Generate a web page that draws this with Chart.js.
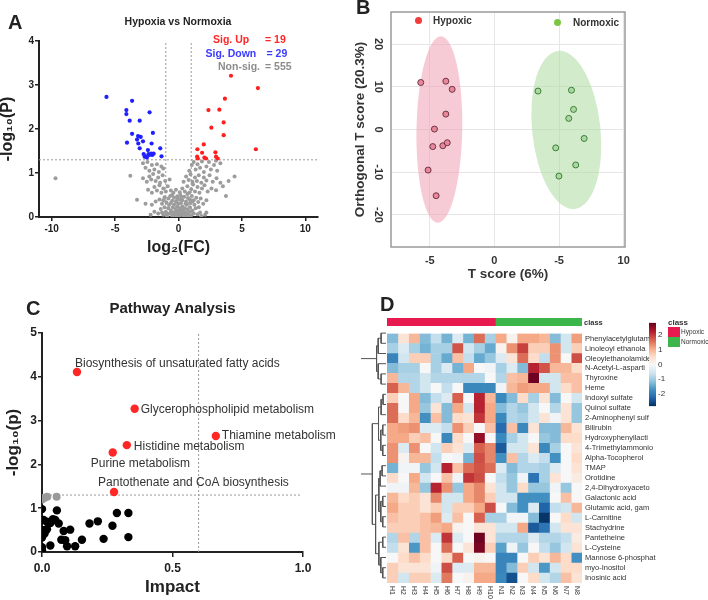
<!DOCTYPE html>
<html>
<head>
<meta charset="utf-8">
<script src="https://cdn.jsdelivr.net/npm/chart.js@4.4.1/dist/chart.umd.min.js"></script>
<style>
body { margin: 0; background: #fff; width: 708px; height: 600px; position: relative; overflow: hidden;
       font-family: "Liberation Sans", Arial, sans-serif; color: #222; }
canvas { position: absolute; }
.t { position: absolute; white-space: nowrap; line-height: 1; }
.b { font-weight: bold; }
.dot { position: absolute; width: 7px; height: 7px; border-radius: 50%; }
.sq { position: absolute; width: 12px; height: 10px; }
</style>
</head>
<body>
<canvas id="volcano" width="340" height="262" style="left:0;top:0"></canvas>
<canvas id="opls" width="368" height="290" style="left:340px;top:0"></canvas>
<canvas id="pathway" width="350" height="305" style="left:0;top:295px"></canvas>
<canvas id="dendro" width="28" height="260" style="left:359px;top:326px"></canvas>
<canvas id="heat" width="270" height="274" style="left:386px;top:326px"></canvas>
<canvas id="classbar" width="195" height="8" style="left:387px;top:318px"></canvas>
<canvas id="colorbar" width="40" height="97" style="left:641px;top:316px"></canvas>

<div class="t b" style="left:8px;top:12px;font-size:20px">A</div>
<div class="t b" style="left:178px;top:16px;font-size:10.5px;transform:translateX(-50%)">Hypoxia vs Normoxia</div>
<div class="t b" style="left:213px;top:34px;font-size:10.5px;color:#ff2626">Sig. Up</div>
<div class="t b" style="left:265px;top:34px;font-size:10.5px;color:#ff2626">= 19</div>
<div class="t b" style="left:205.5px;top:47.5px;font-size:10.5px;color:#3b3bff">Sig. Down</div>
<div class="t b" style="left:266.5px;top:47.5px;font-size:10.5px;color:#3b3bff">= 29</div>
<div class="t b" style="left:218px;top:61px;font-size:10.5px;color:#8c8c8c">Non-sig.</div>
<div class="t b" style="left:265px;top:61px;font-size:10.5px;color:#8c8c8c">= 555</div>

<div class="t b" style="left:356px;top:-3px;font-size:20px">B</div>
<div class="dot" style="left:414.8px;top:17.2px;background:#f23b3b"></div>
<div class="t b" style="left:433px;top:15.5px;font-size:10px;color:#333">Hypoxic</div>
<div class="dot" style="left:553.8px;top:19.2px;background:#7cc544"></div>
<div class="t b" style="left:573px;top:17.5px;font-size:10px;color:#333">Normoxic</div>

<div class="t b" style="left:26px;top:298px;font-size:20px">C</div>
<div class="t b" style="left:172.5px;top:300px;font-size:15px;transform:translateX(-50%)">Pathway Analysis</div>

<div class="t b" style="left:380px;top:294px;font-size:20px">D</div>
<div class="t b" style="left:584px;top:319px;font-size:7.5px;color:#333">class</div>
<div class="t b" style="left:668px;top:318.5px;font-size:8px;color:#333">class</div>
<div class="sq" style="left:668px;top:327px;background:#e8194f"></div>
<div class="sq" style="left:668px;top:337px;background:#3cb54a"></div>
<div class="t" style="left:681px;top:329px;font-size:6.5px;color:#333">Hypoxic</div>
<div class="t" style="left:681px;top:339px;font-size:6.5px;color:#333">Normoxic</div>

<script>
// ---------- A: volcano plot ----------
const volcanoXTicks = [-10, -5, 0, 5, 10];
const volcanoYTicks = [0, 1, 2, 3, 4];
const fcCutoff = 1;
const pCutoff = 1.3;
const sigUp = [
  [4.14, 3.21], [6.26, 2.93], [3.66, 2.69], [2.36, 2.43], [3.22, 2.44], [3.56, 2.15], [2.59, 2.03],
  [3.56, 1.86], [1.99, 1.65], [1.49, 1.54], [6.10, 1.54], [1.86, 1.46], [2.91, 1.47], [1.47, 1.37],
  [1.52, 1.33], [2.04, 1.35], [2.17, 1.33], [2.96, 1.37], [3.09, 1.33]
];
const sigDown = [
  [-5.68, 2.73], [-3.66, 2.64], [-4.11, 2.43], [-4.11, 2.34], [-2.28, 2.38], [-3.85, 2.19], [-3.06, 2.19],
  [-3.66, 1.89], [-2.02, 1.91], [-3.19, 1.84], [-2.98, 1.82], [-4.06, 1.69], [-3.27, 1.76], [-2.80, 1.72],
  [-3.17, 1.67], [-2.12, 1.67], [-3.06, 1.56], [-1.44, 1.56], [-2.41, 1.52], [-2.75, 1.43], [-2.59, 1.38],
  [-2.36, 1.43], [-2.15, 1.44], [-1.96, 1.44], [-1.34, 1.38], [-2.49, 1.35], [-2.67, 1.37], [-2.28, 1.41],
  [-2.07, 1.41]
];
const nonSig = [
  [-1.2, 0.05], [-1.0, 0.12], [-0.9, 0.02], [-0.8, 0.2], [-0.7, 0.08], [-0.6, 0.15], [-0.5, 0.03], [-0.45, 0.22],
  [-0.4, 0.1], [-0.3, 0.05], [-0.25, 0.18], [-0.2, 0.12], [-0.15, 0.02], [-0.1, 0.24], [-0.05, 0.08], [0, 0.15],
  [0.05, 0.03], [0.1, 0.2], [0.15, 0.1], [0.2, 0.05], [0.25, 0.16], [0.3, 0.24], [0.35, 0.08], [0.4, 0.13],
  [0.45, 0.02], [0.5, 0.2], [0.55, 0.1], [0.6, 0.05], [0.7, 0.17], [0.8, 0.09], [0.9, 0.22], [1.0, 0.04],
  [1.1, 0.14], [1.2, 0.08], [1.35, 0.2], [1.5, 0.06], [1.7, 0.1], [-1.4, 0.18], [-1.6, 0.08], [-0.35, 0.28],
  [0.65, 0.28], [0.0, 0.3], [-0.6, 0.32], [0.2, 0.32],
  [-1.3, 0.1], [-1.1, 0.22], [-0.95, 0.08], [-0.75, 0.27], [-0.55, 0.12], [-0.15, 0.33], [0.1, 0.12], [0.35, 0.18],
  [0.55, 0.3], [0.75, 0.02], [0.95, 0.13], [1.25, 0.28], [1.6, 0.22], [1.8, 0.02], [-1.9, 0.12], [-0.05, 0.42],
  [0.25, 0.45], [-0.5, 0.5], [0.7, 0.52], [1.1, 0.35], [-1.2, 0.38], [0.0, 0.0], [-0.3, 0.0], [0.4, 0.0],
  [0.9, 0.4], [2.1, 0.05], [-2.2, 0.05],
  [-1.8, 0.35], [-1.5, 0.4], [-1.3, 0.3], [-1.1, 0.45], [-0.95, 0.33], [-0.8, 0.42], [-0.65, 0.48], [-0.5, 0.37],
  [-0.35, 0.44], [-0.2, 0.36], [-0.1, 0.47], [0.05, 0.4], [0.15, 0.5], [0.3, 0.38], [0.45, 0.46], [0.6, 0.35],
  [0.75, 0.43], [0.9, 0.32], [1.05, 0.48], [1.2, 0.38], [1.4, 0.44], [1.55, 0.34], [1.75, 0.42], [1.95, 0.3],
  [2.2, 0.38], [-2.1, 0.28],
  [-2.1, 0.55], [-1.9, 0.68], [-1.7, 0.6], [-1.5, 0.72], [-1.35, 0.55], [-1.2, 0.65], [-1.0, 0.58], [-0.85, 0.7],
  [-0.6, 0.6], [-0.4, 0.55], [-0.2, 0.62], [0.1, 0.56], [0.3, 0.65], [0.5, 0.58], [0.7, 0.7], [0.85, 0.55],
  [1.0, 0.63], [1.15, 0.74], [1.3, 0.58], [1.5, 0.68], [1.65, 0.55], [1.85, 0.65], [2.05, 0.72], [2.3, 0.58],
  [2.6, 0.65], [-2.4, 0.62],
  [-2.5, 0.8], [-2.3, 0.92], [-2.15, 0.85], [-2.0, 0.98], [-1.8, 0.82], [-1.6, 0.9], [-1.45, 0.78], [-1.25, 0.95],
  [-1.05, 0.82], [-0.7, 0.85], [0.4, 0.8], [0.6, 0.92], [0.8, 0.84], [0.95, 0.97], [1.1, 0.8], [1.3, 0.9],
  [1.45, 0.82], [1.6, 0.95], [1.8, 0.78], [2.0, 0.9], [2.2, 0.83], [2.45, 0.95], [2.7, 0.8], [3.0, 0.88],
  [3.3, 0.78], [-2.8, 0.88],
  [-2.8, 1.22], [-2.6, 1.12], [-2.45, 1.25], [-2.3, 1.05], [-2.1, 1.18], [-1.9, 1.08], [-1.7, 1.2], [-1.55, 1.02],
  [-1.35, 1.15], [-1.2, 1.1], [0.85, 1.05], [1.05, 1.18], [1.2, 1.25], [1.35, 1.08], [1.5, 1.2], [1.7, 1.12],
  [1.85, 1.26], [2.0, 1.02], [2.2, 1.15], [2.4, 1.25], [2.55, 1.08], [2.8, 1.18], [3.05, 1.05], [3.3, 1.22],
  [2.95, 1.28],
  [-9.7, 0.88], [-3.8, 0.94], [-3.27, 0.39], [3.74, 0.48], [4.42, 0.92], [3.95, 0.82], [2.96, 0.61], [3.5, 0.7],
  [2.2, 0.1], [-2.6, 0.3]
];

// ---------- B: OPLS-DA scores ----------
const hypoxicT = [-5.70, -3.76, -3.27, -3.76, -4.64, -4.77, -3.99, -3.65, -5.13, -4.51];
const hypoxicOrtho = [11.0, 11.3, 9.4, 3.6, 0.1, -4.0, -3.8, -3.1, -9.5, -15.5];
const normoxicT = [3.37, 5.96, 6.12, 5.75, 6.94, 4.74, 6.29, 4.99];
const normoxicOrtho = [9.0, 9.2, 4.7, 2.6, -2.1, -4.3, -8.3, -10.9];
const oplsXTicks = [-5, 0, 5, 10];
const oplsXTickLabels = ['-5', '0', '-5', '10'];
const oplsYTicks = [-20, -10, 0, 10, 20];
// confidence ellipses: centre x, centre y, half-width, half-height (data units), tilt (deg)
const hypoxicEllipse = [-4.26, 0, 1.77, 21.8, 1];
const normoxicEllipse = [5.56, -0.1, 2.64, 18.6, -6];

// ---------- C: pathway analysis ----------
const pathwayNames = ['Biosynthesis of unsaturated fatty acids', 'Glycerophospholipid metabolism',
  'Thiamine metabolism', 'Histidine metabolism', 'Purine metabolism', 'Pantothenate and CoA biosynthesis'];
const pathwayImpact = [0.134, 0.355, 0.666, 0.325, 0.271, 0.276];
const pathwayLogP = [4.11, 3.27, 2.65, 2.44, 2.27, 1.37];
const nearImpact = [0, 0.01, 0.02, 0.056];
const nearLogP = [1.2, 1.24, 1.26, 1.26];
const otherPathways = [
  [0, 0.98], [0, 0.73], [0.004, 0.50], [0, 0.33], [0, 0.11], [0, 0.04], [0.013, 0.50], [0.006, 0.73],
  [0.019, 0.69], [0.032, 0.66], [0.010, 0.42], [0.042, 0.75], [0.051, 0.73], [0.057, 0.95], [0.064, 0.65],
  [0.083, 0.48], [0.108, 0.51], [0.074, 0.28], [0.089, 0.27], [0.096, 0.13], [0.127, 0.13], [0.153, 0.28],
  [0.182, 0.65], [0.214, 0.70], [0.236, 0.30], [0.270, 0.60], [0.287, 0.89], [0.331, 0.89], [0.331, 0.34],
  [0.032, 0.15], [0, 0.5], [0.019, 0.52]
];
const impactCutoff = 0.6;
const pathwayXTicks = [0, 0.5, 1.0];
const pathwayYTicks = [0, 1, 2, 3, 4, 5];

// ---------- D: heatmap ----------
const heatRows = ['Phenylacetylglutam', 'Linoleoyl ethanola', 'Oleoylethanolamide', 'N-Acetyl-L-asparti',
  'Thyroxine', 'Heme', 'Indoxyl sulfate', 'Quinol sulfate', '2-Aminophenyl sulf', 'Bilirubin',
  'Hydroxyphenyllacti', '4-Trimethylammonio', 'Alpha-Tocopherol', 'TMAP', 'Orotidine', '2,4-Dihydroxyaceto',
  'Galactonic acid', 'Glutamic acid, gam', 'L-Carnitine', 'Stachydrine', 'Pantetheine', 'L-Cysteine',
  'Mannose 6-phosphat', 'myo-Inositol', 'Inosinic acid'];
const heatCols = ['H1', 'H2', 'H3', 'H4', 'H5', 'H6', 'H7', 'H8', 'H9', 'H10',
  'N1', 'N2', 'N3', 'N4', 'N5', 'N6', 'N7', 'N8'];
const hypoxicCount = 10;
const normoxicCount = 8;
const heatValues = [
  [-1.25, 0.4, 0.95, -1.25, -0.7, -1.35, -0.4, -1.35, 1.6, -0.95, 1.1, 0.1, 1.1, 1.1, 0.95, -1.25, -0.55, 1.2],
  [-0.95, -0.4, -0.95, -1.35, -0.95, -0.95, 1.8, -0.55, -0.95, -1.45, 0.1, 1.3, 1.95, 0.7, 0.7, 1.3, -0.55, 0.7],
  [-1.9, -0.55, 0.7, 0.7, -0.95, -1.45, 0.85, -0.7, -1.45, -1.1, -0.4, 0.4, 1.6, 0.55, -0.7, 1.3, 0.0, 1.85],
  [-1.25, -0.95, -0.95, 0.0, -0.95, -0.4, -1.35, 1.1, 0.0, -0.1, -0.95, -0.4, -1.25, 2.2, 1.8, 0.95, 0.95, 0.55],
  [0.95, -0.85, -0.85, -0.55, -0.85, -0.85, -0.85, -0.85, -0.85, 0.0, -0.85, 0.85, 0.95, 2.8, -0.55, -0.55, 0.85, 0.85],
  [1.7, 0.95, -0.85, -0.55, 0.0, -0.7, 0.0, -1.85, -1.85, -1.85, -0.1, 0.95, 1.2, 1.1, 1.1, -0.55, 0.55, 0.85],
  [0.7, 0.0, 1.1, -1.25, -0.7, -0.4, 1.7, 0.0, 2.2, 0.95, -1.85, -1.25, 0.55, -0.95, 0.4, -1.25, 0.0, -0.55],
  [1.6, 0.0, 1.1, -1.1, 0.4, -1.25, 1.1, -0.55, 2.2, 1.1, -1.25, -0.85, -1.1, -0.55, 0.0, -0.85, 0.4, -1.1],
  [1.6, 0.55, 0.95, -1.75, 0.85, -1.25, 0.55, 0.4, 2.05, 1.1, -1.85, -0.85, -0.95, -0.55, 0.4, -0.1, 0.4, -1.1],
  [1.1, 1.2, 1.3, -0.4, -0.4, -0.7, 1.3, 0.7, 0.0, 0.85, -2.2, 0.85, -1.85, 0.4, -1.25, -1.25, 0.95, 0.4],
  [1.1, 1.1, 0.7, 0.85, 0.0, -1.85, 0.55, 0.0, 2.5, 0.0, -1.85, -0.95, -0.55, 0.0, -1.1, -1.25, 0.55, 0.55],
  [1.3, -0.4, 1.3, 0.0, -0.55, 0.7, 0.4, -0.4, 1.7, 1.4, -2.4, -0.55, -0.55, 0.4, -1.85, -0.95, 0.0, 0.4],
  [1.3, 0.1, 0.95, 0.95, -0.7, 0.0, -0.1, -1.35, 1.85, 1.4, -1.75, 0.85, -0.85, -0.4, -0.7, -1.75, 0.0, 0.55],
  [-1.35, -0.1, -0.1, -1.1, -0.55, 2.2, 0.85, 1.6, 1.8, 1.6, -0.4, -1.25, -0.85, -0.85, -0.95, -0.4, 0.0, 0.4],
  [0.55, 0.0, 1.1, -0.55, 0.0, 0.85, -0.1, 2.05, 1.85, 0.0, -0.7, -1.1, -0.1, -2.1, -0.95, 0.4, 0.0, 0.25],
  [-0.1, -0.1, 0.95, -1.1, 2.2, 1.3, -1.1, 1.1, 1.4, 0.4, -0.55, -1.1, 0.55, -1.1, -1.1, -0.1, -1.1, 0.0],
  [0.95, 0.55, 0.7, 0.4, 1.4, -0.55, -0.55, 1.1, 1.4, 0.7, -0.55, -0.55, -1.75, -1.75, -1.75, 0.0, 0.85, 0.0],
  [1.1, 0.7, 0.7, 0.4, 0.7, -0.55, 0.7, 0.7, 1.1, 1.85, 0.0, -1.25, -1.75, -0.4, -2.3, -0.7, -0.55, 0.95],
  [0.85, 0.7, 0.7, 0.85, 1.2, -0.4, 0.85, 0.0, 1.7, -0.95, -0.95, -0.1, -0.1, -1.25, -2.8, 0.0, 0.55, -0.55],
  [0.7, 0.7, 0.7, 0.85, 0.95, 1.1, 0.1, 0.0, 0.4, 0.4, -0.55, -0.55, 1.1, -2.4, -2.1, -0.55, 0.4, 0.4],
  [-0.85, 0.85, -0.85, 0.85, -0.4, 2.05, -0.4, 0.0, 2.8, 0.4, -0.85, -0.85, -0.85, -0.4, -0.85, -0.85, -0.7, 0.25],
  [-0.7, 0.4, -1.65, 0.85, 0.0, 1.6, 0.0, 0.4, 2.7, 0.7, -1.55, -0.1, -1.1, 0.0, -0.7, -1.1, -0.55, 0.4],
  [0.0, 0.55, 0.85, 0.55, 0.0, 0.55, 1.7, 0.0, 0.1, 0.0, -1.9, -1.9, 0.0, 0.7, 0.4, 0.95, 0.55, -1.75],
  [0.7, 0.4, 0.4, 0.4, -0.1, 1.85, -0.4, -0.4, 0.95, 0.95, -1.9, -1.25, 0.7, -0.55, -1.65, -0.55, 0.55, 0.55],
  [0.7, -0.55, 0.7, 0.7, -0.4, 1.5, 0.0, 0.1, 1.1, 1.1, -1.85, -2.5, 0.0, 0.55, -0.55, -0.85, 0.85, 0.4]
];
const colorScaleTicks = [-2, -1, 0, 1, 2];
const colorScaleLimit = 2.85;
// row dendrogram: [left child, right child, merge height]; numbers are rows, 'mK' is merge K
const dendroMerges = [
  [0, 1, 1.5], ['m0', 2, 2.4], [4, 5, 1.5], [3, 'm2', 2.4], ['m1', 'm3', 2.9],
  [6, 7, 0.9], ['m5', 8, 1.5], [9, 10, 1.0], [11, 12, 1.0], ['m7', 'm8', 1.6], ['m6', 'm9', 2.3],
  [13, 14, 1.2], ['m11', 15, 1.8], [16, 17, 1.0], [18, 19, 1.0], ['m13', 'm14', 1.6], ['m12', 'm15', 2.2],
  [20, 21, 1.0], [23, 24, 1.0], [22, 'm18', 1.6], ['m17', 'm19', 2.2], ['m16', 'm20', 3.2], ['m10', 'm21', 4.2]
];
const dendroRoots = ['m4', 'm22'];
const dendroRootHeight = 7.7;

// ---------- styling ----------
Chart.defaults.font.family = '"Liberation Sans", Arial, sans-serif';
Chart.defaults.color = '#222';
Chart.defaults.animation = false;
Chart.defaults.events = [];
Chart.defaults.plugins.legend.display = false;
Chart.defaults.plugins.tooltip.enabled = false;

const rdbu = ['#053061', '#2166ac', '#4393c3', '#92c5de', '#d1e5f0', '#f7f7f7',
  '#fddbc7', '#f4a582', '#d6604d', '#b2182b', '#67001f'];

function fixedSize(px) {
  return function (scale) {
    if (scale.isHorizontal()) scale.height = px; else scale.width = px;
  };
}
function setTicks(values) {
  return function (scale) { scale.ticks = values.map(v => ({ value: v })); };
}
function pts(list) { return list.map(p => ({ x: p[0], y: p[1] })); }
function zip(xs, ys) { return xs.map((x, i) => ({ x: x, y: ys[i] })); }

function hexToRgb(h) {
  return [parseInt(h.slice(1, 3), 16), parseInt(h.slice(3, 5), 16), parseInt(h.slice(5, 7), 16)];
}
function heatColor(v) {
  const t = (Math.max(-colorScaleLimit, Math.min(colorScaleLimit, v)) + colorScaleLimit) / (2 * colorScaleLimit);
  const f = t * (rdbu.length - 1);
  const i = Math.min(Math.floor(f), rdbu.length - 2);
  const a = hexToRgb(rdbu[i]), b = hexToRgb(rdbu[i + 1]), k = f - i;
  const c = a.map((x, j) => Math.round(x + (b[j] - x) * k));
  return 'rgb(' + c.join(',') + ')';
}

const axisBlack = { color: '#222', width: 2 };
function tickGrid(len) {
  return { drawOnChartArea: false, drawTicks: true, tickLength: len, color: '#222', lineWidth: 1.5 };
}
const dotted = { borderColor: '#9a9a9a', borderWidth: 1, borderDash: [2, 2], pointRadius: 0, showLine: true, order: 9 };

// ---------- A ----------
new Chart(document.getElementById('volcano'), {
  type: 'scatter',
  data: {
    datasets: [
      { data: pts(sigUp), backgroundColor: '#ff1f1f', pointRadius: 2.1, borderWidth: 0 },
      { data: pts(sigDown), backgroundColor: '#1f1fff', pointRadius: 2.1, borderWidth: 0 },
      { data: pts(nonSig), backgroundColor: '#9c9c9c', pointRadius: 2, borderWidth: 0, order: 1 },
      Object.assign({ data: [{ x: -fcCutoff, y: 0 }, { x: -fcCutoff, y: 4 }] }, dotted),
      Object.assign({ data: [{ x: fcCutoff, y: 0 }, { x: fcCutoff, y: 4 }] }, dotted),
      Object.assign({ data: [{ x: -11, y: pCutoff }, { x: 11, y: pCutoff }] }, dotted)
    ]
  },
  options: {
    responsive: false,
    layout: { padding: { top: 41, right: 22, left: 0, bottom: 0 } },
    scales: {
      x: {
        type: 'linear', min: -11, max: 11,
        afterBuildTicks: setTicks(volcanoXTicks), afterFit: fixedSize(45),
        grid: tickGrid(4), border: axisBlack,
        ticks: { font: { size: 10, weight: 'bold' }, color: '#222', padding: 2, maxRotation: 0 },
        title: { display: true, text: 'log₂(FC)', color: '#222', font: { size: 16, weight: 'bold' }, padding: { top: 0, bottom: 5 } }
      },
      y: {
        min: 0, max: 4,
        afterBuildTicks: setTicks(volcanoYTicks), afterFit: fixedSize(39),
        grid: tickGrid(4), border: axisBlack,
        ticks: { font: { size: 10, weight: 'bold' }, color: '#222', padding: 1 },
        title: { display: true, text: '-log₁₀(P)', color: '#222', font: { size: 16, weight: 'bold', lineHeight: 1 }, padding: { top: 0, bottom: 0 } }
      }
    }
  }
});

// ---------- B ----------
const ellipsePlugin = {
  id: 'ellipses',
  beforeDatasetsDraw(chart) {
    const xs = chart.scales.x, ys = chart.scales.y, ctx = chart.ctx;
    [[hypoxicEllipse, 'rgba(240,160,178,0.55)'], [normoxicEllipse, 'rgba(172,218,160,0.55)']].forEach(([e, col]) => {
      const cx = xs.getPixelForValue(e[0]), cy = ys.getPixelForValue(e[1]);
      const rx = Math.abs(xs.getPixelForValue(e[0] + e[2]) - cx);
      const ry = Math.abs(ys.getPixelForValue(e[1] + e[3]) - cy);
      ctx.save();
      ctx.beginPath();
      ctx.ellipse(cx, cy, rx, ry, e[4] * Math.PI / 180, 0, 2 * Math.PI);
      ctx.fillStyle = col;
      ctx.fill();
      ctx.restore();
    });
  },
  afterDraw(chart) {
    const a = chart.chartArea, ys = chart.scales.y, ctx = chart.ctx;
    ctx.save();
    ctx.strokeStyle = '#9a9a9a';
    ctx.lineWidth = 1.5;
    ctx.strokeRect(a.left, a.top, a.right - a.left, a.bottom - a.top);
    ctx.font = 'bold 11px "Liberation Sans", Arial, sans-serif';
    ctx.fillStyle = '#333';
    ctx.textAlign = 'center';
    ctx.textBaseline = 'middle';
    oplsYTicks.forEach(v => {
      ctx.save();
      ctx.translate(a.left - 13, ys.getPixelForValue(v));
      ctx.rotate(Math.PI / 2);
      ctx.fillText(String(v), 0, 0);
      ctx.restore();
    });
    ctx.restore();
  }
};

new Chart(document.getElementById('opls'), {
  type: 'scatter',
  data: {
    datasets: [
      { data: zip(hypoxicT, hypoxicOrtho), backgroundColor: '#e8879b', borderColor: '#6e3442', borderWidth: 1, pointRadius: 3 },
      { data: zip(normoxicT, normoxicOrtho), backgroundColor: '#a9d9a0', borderColor: '#3f7d3a', borderWidth: 1, pointRadius: 3 }
    ]
  },
  options: {
    responsive: false,
    layout: { padding: { top: 12, right: 83, left: 0, bottom: 0 } },
    scales: {
      x: {
        type: 'linear', min: -8, max: 10.1,
        afterBuildTicks: setTicks(oplsXTicks), afterFit: fixedSize(43),
        grid: { color: '#e6e6e6', drawTicks: false }, border: { display: false },
        ticks: { font: { size: 11, weight: 'bold' }, color: '#333', padding: 7, maxRotation: 0,
                 callback: (v, i) => oplsXTickLabels[i] },
        title: { display: true, text: 'T score (6%)', color: '#333', font: { size: 13.5, weight: 'bold' }, padding: { top: 0, bottom: 8 } }
      },
      y: {
        min: -27.5, max: 27.5,
        afterBuildTicks: setTicks(oplsYTicks), afterFit: fixedSize(51),
        grid: { color: '#e6e6e6', drawTicks: false }, border: { display: false },
        ticks: { display: false },
        title: { display: true, text: 'Orthogonal T score (20.3%)', color: '#333', font: { size: 13.5, weight: 'bold' }, padding: { top: 12, bottom: 0 } }
      }
    }
  },
  plugins: [ellipsePlugin]
});

// ---------- C ----------
const pathwayLabelOffsets = [[-2, -8], [6, 1], [6, 0], [7, 2], [-22, 11], [-16, -9]];
const pathwayLabels = {
  id: 'pathwayLabels',
  afterDatasetsDraw(chart) {
    const ctx = chart.ctx;
    ctx.save();
    ctx.font = '12px "Liberation Sans", Arial, sans-serif';
    ctx.fillStyle = '#333';
    ctx.textAlign = 'left';
    ctx.textBaseline = 'middle';
    chart.getDatasetMeta(0).data.forEach((pt, i) => {
      const o = pathwayLabelOffsets[i];
      ctx.fillText(pathwayNames[i], pt.x + o[0], pt.y + o[1]);
    });
    ctx.restore();
  }
};

new Chart(document.getElementById('pathway'), {
  type: 'scatter',
  data: {
    datasets: [
      { data: zip(pathwayImpact, pathwayLogP), backgroundColor: '#ff2626', pointRadius: 4.2, borderWidth: 0 },
      { data: zip(nearImpact, nearLogP), backgroundColor: '#9a9a9a', pointRadius: 4, borderWidth: 0 },
      { data: pts(otherPathways), backgroundColor: '#000', pointRadius: 4.2, borderWidth: 0 },
      Object.assign({ data: [{ x: impactCutoff, y: 0 }, { x: impactCutoff, y: 5 }] }, dotted),
      Object.assign({ data: [{ x: 0, y: pCutoff }, { x: 0.99, y: pCutoff }] }, dotted)
    ]
  },
  options: {
    responsive: false,
    layout: { padding: { top: 38, right: 47, left: 0, bottom: 0 } },
    scales: {
      x: {
        type: 'linear', min: 0, max: 1,
        afterBuildTicks: setTicks(pathwayXTicks), afterFit: fixedSize(48),
        grid: tickGrid(5), border: axisBlack,
        ticks: { font: { size: 12, weight: 'bold' }, color: '#222', padding: 4, maxRotation: 0,
                 callback: v => v.toFixed(1) },
        title: { display: true, text: 'Impact', color: '#222', font: { size: 17, weight: 'bold' }, padding: { top: 0, bottom: 2 } }
      },
      y: {
        min: 0, max: 5,
        afterBuildTicks: setTicks(pathwayYTicks), afterFit: fixedSize(42),
        grid: tickGrid(4), border: axisBlack,
        ticks: { font: { size: 12, weight: 'bold' }, color: '#222', padding: 1 },
        title: { display: true, text: '-log₁₀(p)', color: '#222', font: { size: 17, weight: 'bold' }, padding: { top: 3, bottom: 0 } }
      }
    }
  },
  plugins: [pathwayLabels]
});

// ---------- D: dendrogram ----------
const nodePos = {}, nodeH = {};
function posOf(r) { return typeof r === 'number' ? r : nodePos[r]; }
function hOf(r) { return typeof r === 'number' ? 0 : nodeH[r]; }
const dendroPoints = [];
dendroMerges.forEach((m, k) => {
  const [a, b, h] = m;
  dendroPoints.push({ x: hOf(a), y: posOf(a) }, { x: h, y: posOf(a) }, { x: h, y: posOf(b) },
    { x: hOf(b), y: posOf(b) }, { x: null, y: null });
  nodePos['m' + k] = (posOf(a) + posOf(b)) / 2;
  nodeH['m' + k] = h;
});
dendroRoots.forEach(r => {
  dendroPoints.push({ x: nodeH[r], y: nodePos[r] }, { x: dendroRootHeight, y: nodePos[r] }, { x: null, y: null });
});

new Chart(document.getElementById('dendro'), {
  type: 'scatter',
  data: { datasets: [{ data: dendroPoints, showLine: true, spanGaps: false, borderColor: '#555', borderWidth: 1, pointRadius: 0 }] },
  options: {
    responsive: false,
    layout: { padding: { left: 1, right: 1, top: 2, bottom: 3 } },
    scales: {
      x: { type: 'linear', min: 0, max: 8, reverse: true, display: false },
      y: { type: 'linear', min: -0.5, max: heatRows.length - 0.5, reverse: true, display: false }
    }
  }
});

// ---------- D: heatmap ----------
const columnLabels = {
  id: 'columnLabels',
  afterDraw(chart) {
    const xs = chart.scales.x, ctx = chart.ctx;
    ctx.save();
    ctx.font = '7px "Liberation Sans", Arial, sans-serif';
    ctx.fillStyle = '#333';
    ctx.textAlign = 'left';
    ctx.textBaseline = 'middle';
    heatCols.forEach((name, i) => {
      ctx.save();
      ctx.translate(xs.getPixelForValue(i + 0.5), chart.chartArea.bottom + 3);
      ctx.rotate(Math.PI / 2);
      ctx.fillText(name, 0, 0);
      ctx.restore();
    });
    ctx.restore();
  }
};

new Chart(document.getElementById('heat'), {
  type: 'bar',
  data: {
    labels: heatRows,
    datasets: heatCols.map((name, c) => ({
      label: name,
      data: heatRows.map(() => 1),
      backgroundColor: heatValues.map(row => heatColor(row[c])),
      barPercentage: 1, categoryPercentage: 1, borderWidth: 0
    }))
  },
  options: {
    responsive: false,
    indexAxis: 'y',
    layout: { padding: { left: 1, top: 2, bottom: 17, right: 0 } },
    scales: {
      x: { type: 'linear', stacked: true, min: 0, max: heatCols.length, display: false },
      y: {
        stacked: true, position: 'right', afterFit: fixedSize(74),
        grid: { display: false, drawTicks: false }, border: { display: false },
        ticks: { font: { size: 7.5 }, color: '#333', padding: 3, autoSkip: false }
      }
    }
  },
  plugins: [columnLabels]
});

// ---------- D: class bar ----------
new Chart(document.getElementById('classbar'), {
  type: 'bar',
  data: {
    labels: ['class'],
    datasets: [
      { data: [hypoxicCount], backgroundColor: '#e8194f', barPercentage: 1, categoryPercentage: 1 },
      { data: [normoxicCount], backgroundColor: '#3cb54a', barPercentage: 1, categoryPercentage: 1 }
    ]
  },
  options: {
    responsive: false,
    indexAxis: 'y',
    layout: { padding: 0 },
    scales: {
      x: { type: 'linear', stacked: true, min: 0, max: hypoxicCount + normoxicCount, display: false },
      y: { stacked: true, display: false }
    }
  }
});

// ---------- D: colour key ----------
new Chart(document.getElementById('colorbar'), {
  type: 'bar',
  data: {
    labels: ['z'],
    datasets: [{
      data: [[-colorScaleLimit, colorScaleLimit]],
      barPercentage: 1, categoryPercentage: 1, borderWidth: 0,
      backgroundColor: (c) => {
        const area = c.chart.chartArea;
        if (!area) return '#ccc';
        const g = c.chart.ctx.createLinearGradient(0, area.bottom, 0, area.top);
        rdbu.forEach((col, i) => g.addColorStop(i / (rdbu.length - 1), col));
        return g;
      }
    }]
  },
  options: {
    responsive: false,
    layout: { padding: { left: 8, top: 4, bottom: 4, right: 0 } },
    scales: {
      x: { display: false },
      y: {
        position: 'right', min: -colorScaleLimit, max: colorScaleLimit,
        afterBuildTicks: setTicks(colorScaleTicks), afterFit: fixedSize(25),
        grid: { display: false, drawTicks: false }, border: { display: false },
        ticks: { font: { size: 8 }, color: '#333', padding: 2 }
      }
    }
  }
});
</script>
</body>
</html>
